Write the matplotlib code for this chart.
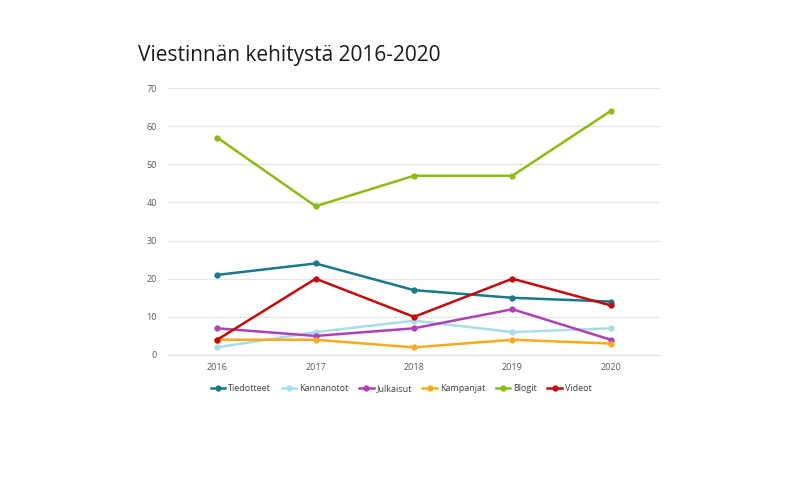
import matplotlib.pyplot as plt
import numpy as np

years = ["2016", "2017", "2018", "2019", "2020"]
tiedotteet = [21, 24, 17, 15, 14]
kannanotot = [2, 6, 9, 6, 7]
julkaisut = [7, 5, 7, 12, 4]
kampanjat = [4, 4, 2, 4, 3]
blogit = [57, 39, 47, 47, 64]
videot = [4, 20, 10, 20, 13]

series = [
    ("Tiedotteet", tiedotteet, "#18798a"),
    ("Kannanotot", kannanotot, "#a7dde8"),
    ("Julkaisut", julkaisut, "#b040b8"),
    ("Kampanjat", kampanjat, "#f7ab1e"),
    ("Blogit", blogit, "#8fba14"),
    ("Videot", videot, "#c40a0a"),
]

plt.rcParams['font.family'] = ['Open Sans', 'DejaVu Sans']

fig = plt.figure(figsize=(8, 4.86), dpi=100)
ax = fig.add_axes([168 / 800, 1 - 355 / 486, 492 / 800, 267 / 486])

x = np.arange(len(years))
for name, vals, col in series:
    ax.plot(x, vals, color=col, lw=1.8, marker="o", ms=3.5, label=name)

ax.set_xlim(-0.5, len(years) - 0.5)
ax.set_ylim(0, 70)
ax.set_yticks(range(0, 71, 10))
ax.set_xticks(x)
ax.set_xticklabels(years)
ax.yaxis.grid(True, color="#e6e6e6", lw=0.9)
ax.axhline(0, color="#e0e0e0", lw=0.9, clip_on=False, zorder=0.5)
ax.set_axisbelow(True)
for s in ax.spines.values():
    s.set_visible(False)
ax.tick_params(length=0, labelsize=6.5, colors="#595959", pad=6)
ax.tick_params(axis="y", pad=8)

ax.legend(loc="upper center", bbox_to_anchor=(0.474, -0.08), ncol=6, frameon=False,
          fontsize=6.5, handlelength=1.6, handletextpad=0.3, columnspacing=1.2,
          labelcolor="#404040")

fig.text(138 / 800, 1 - 56 / 486, "Viestinnän kehitystä 2016-2020", fontsize=15,
         color="#1a1a1a", va="center", ha="left")

fig.savefig("out.png", dpi=100)
